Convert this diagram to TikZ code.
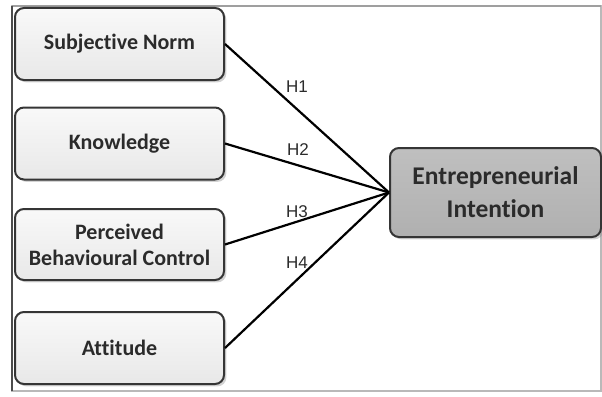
\documentclass[tikz,border=0pt]{standalone}
\usepackage{fontspec}
\setmainfont{Carlito}[Ligatures=NoCommon]
\newfontfamily\labelfont{Liberation Sans}
\usetikzlibrary{shadows}

\definecolor{boxline}{HTML}{353535}
\definecolor{boxtext}{HTML}{2B2B2B}
\tikzset{
  factor/.style={draw=boxline, line width=2pt, rounded corners=9pt,
    top color=gray!5, bottom color=gray!18, drop shadow={opacity=0.35},
    minimum width=209pt, minimum height=72pt, align=center,
    font=\bfseries\fontsize{22}{26}\selectfont, text=boxtext, inner sep=2pt},
  outcome/.style={factor, top color=gray!50, bottom color=gray!62,
    minimum width=211pt, minimum height=89pt,
    font=\bfseries\fontsize{25.5}{33}\selectfont},
  hyp/.style={font=\labelfont\fontsize{17}{19}\selectfont, text=boxtext, inner sep=0.75pt},
  path/.style={line width=2.2pt, black}
}

\begin{document}
\begin{tikzpicture}[x=1pt,y=1pt,yscale=-1,xscale=1]
\useasboundingbox (0,0) rectangle (602,396);

%Shape: Frame
\draw[gray!55, line width=1.5pt] (12,6) -- (601,6) -- (601,391) -- (12,391) -- cycle;
\draw[gray!75, line width=2.5pt] (12,6) -- (601,6);
\draw[black!70, line width=1.2pt] (12,6) -- (12,391);

%Shape: Rounded Rectangles
\node[factor] (norm) at (119.5,44) {Subjective Norm};
\node[factor] (know) at (119.5,143.5) {Knowledge};
\node[factor, minimum height=71pt] (pbc) at (119.5,244.5) {Perceived\\Behavioural Control};
\node[factor] (att) at (119.5,348) {Attitude};
\node[outcome] (intent) at (495.5,192.5) {Entrepreneurial\\Intention};

%Straight Lines
\draw[path] (norm.east) -- (intent.west);
\draw[path] (know.east) -- (intent.west);
\draw[path] (pbc.east) -- (intent.west);
\draw[path] (att.east) -- (intent.west);

% Text Node
\node[hyp] (h1) at (297,87) {H1};
% Text Node
\node[hyp] (h2) at (298,150) {H2};
% Text Node
\node[hyp] (h3) at (297,212) {H3};
% Text Node
\node[hyp] (h4) at (297,263) {H4};

\end{tikzpicture}
\end{document}
